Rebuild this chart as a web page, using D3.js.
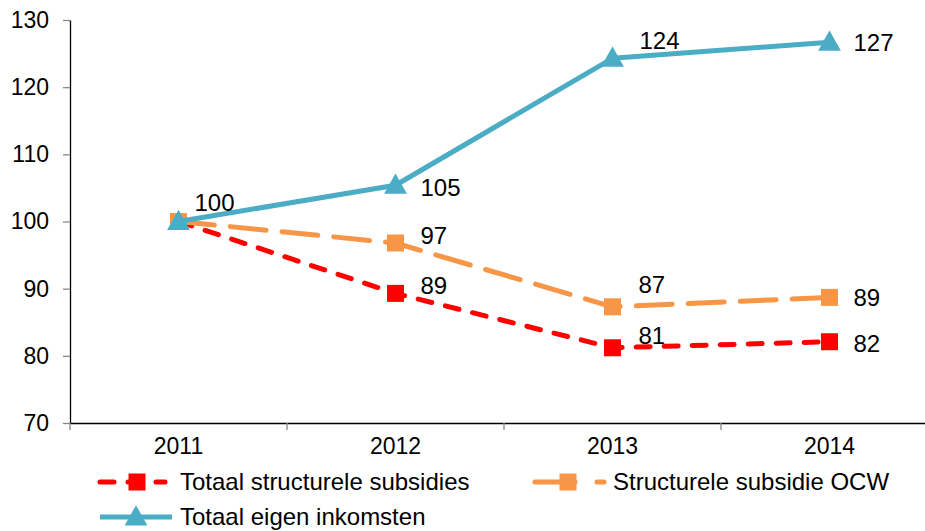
<!DOCTYPE html>
<html><head><meta charset="utf-8">
<script src="https://cdn.jsdelivr.net/npm/d3@7/dist/d3.min.js"></script>
<style>
html,body{margin:0;padding:0;background:#fff;overflow:hidden}
svg{display:block;font-family:"Liberation Sans",Arial,sans-serif}
</style></head><body>
<svg id="c" width="925" height="531"></svg>
<script>
// ---- data ----
const years = ["2011", "2012", "2013", "2014"];
const seriesNames = ["Totaal structurele subsidies", "Structurele subsidie OCW", "Totaal eigen inkomsten"];
const totaalStructureleSubsidies = [100, 89.3, 81.2, 82.1];
const structureleSubsidieOCW = [100, 96.8, 87.3, 88.7];
const totaalEigenInkomsten = [100, 105.4, 124.3, 126.7];
const yTicks = [70, 80, 90, 100, 110, 120, 130];

// ---- layout / style (not data) ----
const colors = ["#FF0000", "#F79646", "#4BACC6"];
const dashes = ["14,14", "36,16", null];
const markers = ["square", "square", "triangle"];
// label offsets [dx, dy] per series, per point (null = no label)
const labelOffsets = [
  [null, [25, -8], [26, -12], [24, 2]],
  [null, [25, -7], [26, -22], [24, 0]],
  [[16, -19], [25, 2], [27, -18], [24, 0]]
];

const seriesValues = [totaalStructureleSubsidies, structureleSubsidieOCW, totaalEigenInkomsten];
const svg = d3.select("#c");
const mLeft = 70, mRight = 938, mTop = 20, mBottom = 423;
const axisFont = 23, labelFont = 24;

const x = d3.scaleBand().domain(years).range([mLeft, mRight]);
const y = d3.scaleLinear().domain([70, 130]).range([mBottom, mTop]);
const cx = d => x(d) + x.bandwidth() / 2;

// y axis
const yAxis = svg.append("g").attr("transform", `translate(${mLeft},0)`)
  .call(d3.axisLeft(y).tickValues(yTicks).tickSize(7).tickPadding(14).tickSizeOuter(0));
yAxis.select(".domain").attr("stroke", "#000").attr("stroke-width", 1.3);
yAxis.selectAll(".tick line").attr("stroke", "#888").attr("stroke-width", 1.3);
yAxis.selectAll(".tick text").attr("font-size", axisFont).attr("fill", "#000")
  .attr("font-family", "Liberation Sans, Arial, sans-serif");

// x axis
const xAxis = svg.append("g").attr("transform", `translate(0,${mBottom})`)
  .call(d3.axisBottom(x).tickSize(0).tickPadding(15).tickSizeOuter(0));
xAxis.select(".domain").attr("stroke", "#000").attr("stroke-width", 1.3);
xAxis.selectAll(".tick text").attr("font-size", axisFont).attr("fill", "#000")
  .attr("font-family", "Liberation Sans, Arial, sans-serif");
// band boundary ticks
svg.append("g").selectAll("line").data(years.concat(["end"])).join("line")
  .attr("x1", (d, i) => mLeft + i * x.step()).attr("x2", (d, i) => mLeft + i * x.step())
  .attr("y1", mBottom).attr("y2", mBottom + 7).attr("stroke", "#888").attr("stroke-width", 1.3);

const line = d3.line().x((d, i) => cx(years[i])).y(d => y(d));

function drawMarker(g, type, px, py, color, s) {
  if (type === "square") {
    g.append("rect").attr("x", px - s / 2).attr("y", py - s / 2).attr("width", s).attr("height", s)
      .attr("fill", color);
  } else {
    const h = s * 1.0;
    g.append("path").attr("d", `M${px},${py - h * 0.62}L${px + s * 0.6},${py + h * 0.45}L${px - s * 0.6},${py + h * 0.45}Z`)
      .attr("fill", color);
  }
}

seriesValues.forEach((vals, si) => {
  const g = svg.append("g");
  g.append("path").attr("d", line(vals)).attr("fill", "none")
    .attr("stroke", colors[si]).attr("stroke-width", 5)
    .attr("stroke-linecap", dashes[si] ? "round" : "butt")
    .attr("stroke-linejoin", "round")
    .attr("stroke-dasharray", dashes[si]);
  vals.forEach((v, i) => drawMarker(g, markers[si], cx(years[i]), y(v), colors[si], markers[si] === "square" ? 17 : 19));
});

// labels
seriesValues.forEach((vals, si) => {
  vals.forEach((v, i) => {
    const off = labelOffsets[si][i];
    if (!off) return;
    svg.append("text").attr("x", cx(years[i]) + off[0]).attr("y", y(v) + off[1])
      .attr("dy", "0.35em").attr("font-size", labelFont).attr("fill", "#000")
      .text(d3.format(".0f")(v));
  });
});

// legend
const legendItems = [
  {x0: 100, x1: 165, mx: 137, ty: 482, tx: 180},
  {x0: 535, x1: 604, mx: 568, ty: 482, tx: 613},
  {x0: 100, x1: 172, mx: 136, ty: 517, tx: 180}
];
legendItems.forEach((it, si) => {
  const g = svg.append("g");
  g.append("line").attr("x1", it.x0).attr("x2", it.x1).attr("y1", it.ty).attr("y2", it.ty)
    .attr("stroke", colors[si]).attr("stroke-width", 5)
    .attr("stroke-linecap", dashes[si] ? "round" : "butt")
    .attr("stroke-dasharray", dashes[si] ? (si === 0 ? "14,14" : "40,22") : null);
  drawMarker(g, markers[si], it.mx, it.ty, colors[si], markers[si] === "square" ? 17 : 19);
  g.append("text").attr("x", it.tx).attr("y", it.ty).attr("dy", "0.35em")
    .attr("font-size", labelFont).attr("fill", "#000").text(seriesNames[si]);
});
</script>
</body></html>
